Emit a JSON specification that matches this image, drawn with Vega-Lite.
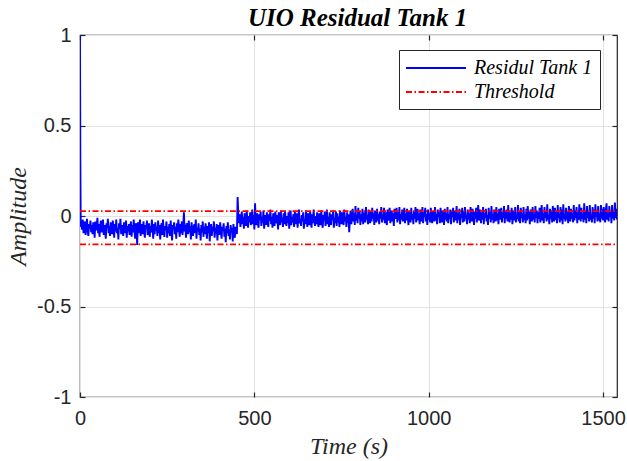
{
"$schema":"https://vega.github.io/schema/vega-lite/v6.json",
"width":537,"height":362,
"autosize":{"type":"none"},
"padding":{"left":80,"top":35,"right":10,"bottom":64},
"background":"white",
"title":{"text":"UIO Residual Tank 1","font":"Liberation Serif","fontStyle":"italic","fontWeight":"bold","fontSize":25,"color":"black","offset":-6,"dx":9},
"datasets":{
"res":[
{"t":0,"r":1},{"t":1,"r":0.3},{"t":2,"r":-0.02},{"t":3,"r":-0.06},
{"t":4,"r":-0.04},{"t":6,"r":-0.075},{"t":8,"r":-0.02},{"t":10,"r":-0.095},{"t":12,"r":-0.055},{"t":14,"r":-0.03},{"t":16,"r":-0.105},{"t":18,"r":-0.06},{"t":20,"r":-0.015},{"t":22,"r":-0.085},
{"t":24,"r":-0.11},{"t":26,"r":-0.045},{"t":28,"r":-0.07},{"t":30,"r":-0.025},{"t":32,"r":-0.09},{"t":34,"r":-0.05},{"t":36,"r":-0.1},{"t":38,"r":-0.035},{"t":40,"r":-0.065},{"t":42,"r":-0.12},
{"t":44,"r":-0.03},{"t":46,"r":-0.08},{"t":48,"r":-0.055},{"t":50,"r":-0.01},{"t":52,"r":-0.095},{"t":54,"r":-0.045},{"t":56,"r":-0.115},{"t":58,"r":-0.06},{"t":60,"r":-0.025},{"t":62,"r":-0.09},
{"t":64,"r":-0.07},{"t":66,"r":-0.02},{"t":68,"r":-0.105},{"t":70,"r":-0.05},{"t":72,"r":-0.085},{"t":74,"r":-0.125},{"t":76,"r":-0.04},{"t":78,"r":-0.065},{"t":80,"r":-0.015},{"t":82,"r":-0.095},
{"t":84,"r":-0.055},{"t":86,"r":-0.11},{"t":88,"r":-0.035},{"t":90,"r":-0.075},{"t":92,"r":-0.1},{"t":94,"r":-0.025},{"t":96,"r":-0.06},{"t":98,"r":-0.12},{"t":100,"r":-0.045},{"t":102,"r":-0.085},
{"t":104,"r":-0.02},{"t":106,"r":-0.095},{"t":108,"r":-0.065},{"t":110,"r":-0.13},{"t":112,"r":-0.04},{"t":114,"r":-0.07},{"t":116,"r":-0.015},{"t":118,"r":-0.1},{"t":120,"r":-0.05},{"t":122,"r":-0.08},
{"t":124,"r":-0.11},{"t":126,"r":-0.035},{"t":128,"r":-0.06},{"t":130,"r":-0.095},{"t":132,"r":-0.025},{"t":134,"r":-0.12},{"t":136,"r":-0.055},{"t":138,"r":-0.085},{"t":140,"r":-0.045},{"t":142,"r":-0.105},
{"t":144,"r":-0.07},{"t":146,"r":-0.03},{"t":148,"r":-0.115},{"t":150,"r":-0.05},{"t":152,"r":-0.09},{"t":154,"r":-0.02},{"t":156,"r":-0.075},{"t":158,"r":-0.125},{"t":160,"r":-0.04},{"t":162,"r":-0.065},
{"t":164,"r":-0.16},{"t":166,"r":-0.035},{"t":168,"r":-0.095},{"t":170,"r":-0.055},{"t":172,"r":-0.02},{"t":174,"r":-0.11},{"t":176,"r":-0.07},{"t":178,"r":-0.045},{"t":180,"r":-0.1},{"t":182,"r":-0.03},
{"t":184,"r":-0.085},{"t":186,"r":-0.12},{"t":188,"r":-0.05},{"t":190,"r":-0.065},{"t":192,"r":-0.025},{"t":194,"r":-0.105},{"t":196,"r":-0.075},{"t":198,"r":-0.04},{"t":200,"r":-0.115},{"t":202,"r":-0.055},
{"t":204,"r":-0.09},{"t":206,"r":-0.02},{"t":208,"r":-0.07},{"t":210,"r":-0.125},{"t":212,"r":-0.045},{"t":214,"r":-0.1},{"t":216,"r":-0.035},{"t":218,"r":-0.08},{"t":220,"r":-0.06},{"t":222,"r":-0.11},
{"t":224,"r":-0.025},{"t":226,"r":-0.095},{"t":228,"r":-0.05},{"t":230,"r":-0.13},{"t":232,"r":-0.065},{"t":234,"r":-0.04},{"t":236,"r":-0.105},{"t":238,"r":-0.02},{"t":240,"r":-0.085},{"t":242,"r":-0.115},
{"t":244,"r":-0.055},{"t":246,"r":-0.075},{"t":248,"r":-0.03},{"t":250,"r":-0.12},{"t":252,"r":-0.06},{"t":254,"r":-0.095},{"t":256,"r":-0.045},{"t":258,"r":-0.11},{"t":260,"r":-0.025},{"t":262,"r":-0.08},
{"t":264,"r":-0.135},{"t":266,"r":-0.05},{"t":268,"r":-0.07},{"t":270,"r":-0.035},{"t":272,"r":-0.1},{"t":274,"r":-0.06},{"t":276,"r":-0.125},{"t":278,"r":-0.04},{"t":280,"r":-0.09},{"t":282,"r":-0.02},
{"t":284,"r":-0.075},{"t":286,"r":-0.115},{"t":288,"r":-0.045},{"t":290,"r":-0.095},{"t":292,"r":-0.03},{"t":294,"r":-0.105},{"t":296,"r":-0.06},{"t":298,"r":0.02},{"t":300,"r":-0.085},{"t":302,"r":-0.05},
{"t":304,"r":-0.12},{"t":306,"r":-0.04},{"t":308,"r":-0.07},{"t":310,"r":-0.1},{"t":312,"r":-0.025},{"t":314,"r":-0.09},{"t":316,"r":-0.055},{"t":318,"r":-0.13},{"t":320,"r":-0.035},{"t":322,"r":-0.08},
{"t":324,"r":-0.11},{"t":326,"r":-0.06},{"t":328,"r":-0.045},{"t":330,"r":-0.095},{"t":332,"r":-0.02},{"t":334,"r":-0.125},{"t":336,"r":-0.065},{"t":338,"r":-0.085},{"t":340,"r":-0.04},{"t":342,"r":-0.105},
{"t":344,"r":-0.07},{"t":346,"r":-0.135},{"t":348,"r":-0.05},{"t":350,"r":-0.09},{"t":352,"r":-0.03},{"t":354,"r":-0.115},{"t":356,"r":-0.06},{"t":358,"r":-0.1},{"t":360,"r":-0.04},{"t":362,"r":-0.075},
{"t":364,"r":-0.125},{"t":366,"r":-0.055},{"t":368,"r":-0.095},{"t":370,"r":-0.035},{"t":372,"r":-0.14},{"t":374,"r":-0.07},{"t":376,"r":-0.045},{"t":378,"r":-0.11},{"t":380,"r":-0.06},{"t":382,"r":-0.085},
{"t":384,"r":-0.03},{"t":386,"r":-0.12},{"t":388,"r":-0.065},{"t":390,"r":-0.1},{"t":392,"r":-0.045},{"t":394,"r":-0.135},{"t":396,"r":-0.075},{"t":398,"r":-0.05},{"t":400,"r":-0.105},{"t":402,"r":-0.035},
{"t":404,"r":-0.09},{"t":406,"r":-0.125},{"t":408,"r":-0.06},{"t":410,"r":-0.08},{"t":412,"r":-0.04},{"t":414,"r":-0.115},{"t":416,"r":-0.07},{"t":418,"r":-0.145},{"t":420,"r":-0.055},{"t":422,"r":-0.095},
{"t":424,"r":-0.035},{"t":426,"r":-0.11},{"t":428,"r":-0.075},{"t":430,"r":-0.13},{"t":432,"r":-0.05},{"t":434,"r":-0.09},{"t":436,"r":-0.065},{"t":438,"r":-0.14},{"t":440,"r":-0.045},{"t":442,"r":-0.1},
{"t":444,"r":-0.12},{"t":446,"r":-0.06},{"t":448,"r":-0.085},{"t":450,"r":-0.1},{"t":452,"r":0.105},{"t":454,"r":0.01},
{"t":456,"r":-0.04},{"t":458,"r":0.01},{"t":460,"r":-0.06},{"t":462,"r":-0.02},{"t":464,"r":0.025},{"t":466,"r":-0.045},{"t":468,"r":-0.005},{"t":470,"r":-0.07},{"t":472,"r":0.015},{"t":474,"r":-0.03},
{"t":476,"r":-0.055},{"t":478,"r":0.03},{"t":480,"r":-0.015},{"t":482,"r":-0.065},{"t":484,"r":0},{"t":486,"r":-0.035},{"t":488,"r":0.02},{"t":490,"r":-0.05},{"t":492,"r":-0.01},{"t":494,"r":0.035},
{"t":496,"r":-0.045},{"t":498,"r":0.005},{"t":500,"r":-0.075},{"t":502,"r":0.07},{"t":504,"r":-0.025},{"t":506,"r":-0.05},{"t":508,"r":0.015},{"t":510,"r":-0.035},{"t":512,"r":-0.065},{"t":514,"r":0.01},
{"t":516,"r":-0.02},{"t":518,"r":0.025},{"t":520,"r":-0.055},{"t":522,"r":-0.005},{"t":524,"r":-0.04},{"t":526,"r":0.03},{"t":528,"r":-0.07},{"t":530,"r":-0.015},{"t":532,"r":0.005},{"t":534,"r":-0.05},
{"t":536,"r":0.02},{"t":538,"r":-0.035},{"t":540,"r":-0.06},{"t":542,"r":0.01},{"t":544,"r":-0.025},{"t":546,"r":0.035},{"t":548,"r":-0.045},{"t":550,"r":-0.005},{"t":552,"r":-0.065},{"t":554,"r":0.015},
{"t":556,"r":-0.03},{"t":558,"r":-0.055},{"t":560,"r":0.025},{"t":562,"r":-0.015},{"t":564,"r":-0.04},{"t":566,"r":0.005},{"t":568,"r":-0.075},{"t":570,"r":0.02},{"t":572,"r":-0.02},{"t":574,"r":-0.05},
{"t":576,"r":0.03},{"t":578,"r":-0.035},{"t":580,"r":-0.01},{"t":582,"r":-0.06},{"t":584,"r":0.015},{"t":586,"r":-0.045},{"t":588,"r":0.025},{"t":590,"r":-0.025},{"t":592,"r":-0.055},{"t":594,"r":0},
{"t":596,"r":-0.04},{"t":598,"r":0.02},{"t":600,"r":-0.07},{"t":602,"r":-0.015},{"t":604,"r":0.03},{"t":606,"r":-0.05},{"t":608,"r":-0.005},{"t":610,"r":-0.035},{"t":612,"r":0.01},{"t":614,"r":-0.06},
{"t":616,"r":0.025},{"t":618,"r":-0.025},{"t":620,"r":-0.045},{"t":622,"r":0.015},{"t":624,"r":-0.065},{"t":626,"r":-0.01},{"t":628,"r":0.035},{"t":630,"r":-0.04},{"t":632,"r":-0.02},{"t":634,"r":-0.055},
{"t":636,"r":0.005},{"t":638,"r":-0.03},{"t":640,"r":0.02},{"t":642,"r":-0.07},{"t":644,"r":-0.015},{"t":646,"r":-0.045},{"t":648,"r":0.03},{"t":650,"r":-0.005},{"t":652,"r":-0.06},{"t":654,"r":0.015},
{"t":656,"r":-0.035},{"t":658,"r":-0.05},{"t":660,"r":0.025},{"t":662,"r":-0.02},{"t":664,"r":-0.065},{"t":666,"r":0.01},{"t":668,"r":-0.04},{"t":670,"r":0.035},{"t":672,"r":-0.025},{"t":674,"r":-0.055},
{"t":676,"r":0},{"t":678,"r":-0.045},{"t":680,"r":0.02},{"t":682,"r":-0.03},{"t":684,"r":-0.06},{"t":686,"r":0.015},{"t":688,"r":-0.01},{"t":690,"r":-0.05},{"t":692,"r":0.03},{"t":694,"r":-0.035},
{"t":696,"r":-0.065},{"t":698,"r":0.005},{"t":700,"r":-0.025},{"t":702,"r":0.025},{"t":704,"r":-0.055},{"t":706,"r":-0.015},{"t":708,"r":0.035},{"t":710,"r":-0.045},{"t":712,"r":-0.005},{"t":714,"r":-0.06},
{"t":716,"r":0.02},{"t":718,"r":-0.03},{"t":720,"r":-0.05},{"t":722,"r":0.01},{"t":724,"r":-0.02},{"t":726,"r":0.03},{"t":728,"r":-0.065},{"t":730,"r":-0.01},{"t":732,"r":-0.04},{"t":734,"r":0.025},
{"t":736,"r":-0.055},{"t":738,"r":0.015},{"t":740,"r":-0.035},{"t":742,"r":-0.005},{"t":744,"r":-0.06},{"t":746,"r":0.03},{"t":748,"r":-0.025},{"t":750,"r":-0.045},{"t":752,"r":0.02},{"t":754,"r":-0.015},
{"t":756,"r":-0.05},{"t":758,"r":0.035},{"t":760,"r":-0.03},{"t":762,"r":-0.005},{"t":764,"r":-0.06},{"t":766,"r":0.02},{"t":768,"r":-0.04},{"t":770,"r":0.01},{"t":772,"r":-0.09},{"t":774,"r":-0.02},
{"t":776,"r":0.03},{"t":778,"r":-0.045},{"t":780,"r":-0.005},{"t":782,"r":0.04},{"t":784,"r":-0.03},{"t":786,"r":0.015},{"t":788,"r":-0.05},{"t":790,"r":0.055},{"t":792,"r":-0.025},{"t":794,"r":0.005},
{"t":796,"r":-0.04},{"t":798,"r":0.045},{"t":800,"r":-0.015},{"t":802,"r":0.025},{"t":804,"r":-0.05},{"t":806,"r":0.01},{"t":808,"r":-0.03},{"t":810,"r":0.04},{"t":812,"r":-0.045},{"t":814,"r":-0.005},
{"t":816,"r":0.02},{"t":818,"r":-0.035},{"t":820,"r":0.05},{"t":822,"r":-0.02},{"t":824,"r":0.005},{"t":826,"r":-0.045},{"t":828,"r":0.035},{"t":830,"r":-0.01},{"t":832,"r":-0.04},{"t":834,"r":0.025},
{"t":836,"r":-0.03},{"t":838,"r":0.045},{"t":840,"r":-0.015},{"t":842,"r":0.015},{"t":844,"r":-0.05},{"t":846,"r":0.03},{"t":848,"r":-0.005},{"t":850,"r":-0.035},{"t":852,"r":0.04},{"t":854,"r":-0.025},
{"t":856,"r":0.01},{"t":858,"r":-0.045},{"t":860,"r":0.025},{"t":862,"r":-0.015},{"t":864,"r":0.05},{"t":866,"r":-0.035},{"t":868,"r":0.005},{"t":870,"r":-0.02},{"t":872,"r":0.045},{"t":874,"r":-0.04},
{"t":876,"r":0.02},{"t":878,"r":-0.01},{"t":880,"r":-0.05},{"t":882,"r":0.035},{"t":884,"r":-0.025},{"t":886,"r":0.01},{"t":888,"r":0.045},{"t":890,"r":-0.04},{"t":892,"r":-0.005},{"t":894,"r":0.03},
{"t":896,"r":-0.03},{"t":898,"r":0.015},{"t":900,"r":-0.055},{"t":902,"r":0.04},{"t":904,"r":-0.015},{"t":906,"r":0.005},{"t":908,"r":0.045},{"t":910,"r":-0.035},{"t":912,"r":0.02},{"t":914,"r":-0.025},
{"t":916,"r":0.05},{"t":918,"r":-0.045},{"t":920,"r":0.01},{"t":922,"r":-0.02},{"t":924,"r":0.035},{"t":926,"r":-0.03},{"t":928,"r":-0.005},{"t":930,"r":0.045},{"t":932,"r":-0.04},{"t":934,"r":0.015},
{"t":936,"r":-0.025},{"t":938,"r":0.04},{"t":940,"r":-0.01},{"t":942,"r":-0.05},{"t":944,"r":0.025},{"t":946,"r":0.005},{"t":948,"r":-0.035},{"t":950,"r":0.045},{"t":952,"r":-0.02},{"t":954,"r":0.01},
{"t":956,"r":-0.045},{"t":958,"r":0.03},{"t":960,"r":-0.015},{"t":962,"r":0.05},{"t":964,"r":-0.035},{"t":966,"r":0},{"t":968,"r":0.04},{"t":970,"r":-0.025},{"t":972,"r":0.015},{"t":974,"r":-0.045},
{"t":976,"r":0.035},{"t":978,"r":-0.01},{"t":980,"r":-0.03},{"t":982,"r":0.05},{"t":984,"r":-0.04},{"t":986,"r":0.02},{"t":988,"r":-0.005},{"t":990,"r":0.045},{"t":992,"r":-0.03},{"t":994,"r":0.01},
{"t":996,"r":-0.05},{"t":998,"r":0.035},{"t":1000,"r":-0.02},{"t":1002,"r":0.015},{"t":1004,"r":-0.035},{"t":1006,"r":0.045},{"t":1008,"r":-0.01},{"t":1010,"r":-0.04},{"t":1012,"r":0.025},{"t":1014,"r":0.005},
{"t":1016,"r":-0.03},{"t":1018,"r":0.05},{"t":1020,"r":-0.025},{"t":1022,"r":0.01},{"t":1024,"r":-0.045},{"t":1026,"r":0.035},{"t":1028,"r":-0.005},{"t":1030,"r":0.02},{"t":1032,"r":-0.04},{"t":1034,"r":0.045},
{"t":1036,"r":-0.015},{"t":1038,"r":-0.035},{"t":1040,"r":0.03},{"t":1042,"r":0.005},{"t":1044,"r":-0.05},{"t":1046,"r":0.04},{"t":1048,"r":-0.02},{"t":1050,"r":0.015},{"t":1052,"r":-0.03},{"t":1054,"r":0.05},
{"t":1056,"r":-0.04},{"t":1058,"r":0.01},{"t":1060,"r":-0.015},{"t":1062,"r":0.035},{"t":1064,"r":-0.045},{"t":1066,"r":0.025},{"t":1068,"r":-0.005},{"t":1070,"r":0.045},{"t":1072,"r":-0.035},{"t":1074,"r":0},
{"t":1076,"r":0.03},{"t":1078,"r":-0.025},{"t":1080,"r":0.055},{"t":1082,"r":-0.04},{"t":1084,"r":0.015},{"t":1086,"r":-0.02},{"t":1088,"r":0.04},{"t":1090,"r":-0.05},{"t":1092,"r":0.01},{"t":1094,"r":-0.01},
{"t":1096,"r":0.045},{"t":1098,"r":-0.035},{"t":1100,"r":0.025},{"t":1102,"r":-0.03},{"t":1104,"r":0.05},{"t":1106,"r":-0.015},{"t":1108,"r":0.005},{"t":1110,"r":-0.045},{"t":1112,"r":0.035},{"t":1114,"r":-0.02},
{"t":1116,"r":0.015},{"t":1118,"r":-0.04},{"t":1120,"r":0.05},{"t":1122,"r":-0.01},{"t":1124,"r":-0.03},{"t":1126,"r":0.04},{"t":1128,"r":0},{"t":1130,"r":-0.05},{"t":1132,"r":0.025},{"t":1134,"r":-0.015},
{"t":1136,"r":0.045},{"t":1138,"r":-0.035},{"t":1140,"r":0.01},{"t":1142,"r":0.06},{"t":1144,"r":-0.025},{"t":1146,"r":-0.005},{"t":1148,"r":0.035},{"t":1150,"r":-0.04},{"t":1152,"r":0.02},{"t":1154,"r":-0.02},
{"t":1156,"r":0.05},{"t":1158,"r":-0.045},{"t":1160,"r":0.015},{"t":1162,"r":-0.01},{"t":1164,"r":0.04},{"t":1166,"r":-0.03},{"t":1168,"r":0.005},{"t":1170,"r":-0.05},{"t":1172,"r":0.045},{"t":1174,"r":-0.015},
{"t":1176,"r":0.025},{"t":1178,"r":-0.035},{"t":1180,"r":0.055},{"t":1182,"r":-0.02},{"t":1184,"r":0.01},{"t":1186,"r":-0.04},{"t":1188,"r":0.035},{"t":1190,"r":-0.005},{"t":1192,"r":-0.03},{"t":1194,"r":0.05},
{"t":1196,"r":-0.025},{"t":1198,"r":0.015},{"t":1200,"r":-0.045},{"t":1202,"r":0.04},{"t":1204,"r":0},{"t":1206,"r":-0.02},{"t":1208,"r":0.045},{"t":1210,"r":-0.035},{"t":1212,"r":0.02},{"t":1214,"r":-0.01},
{"t":1216,"r":0.055},{"t":1218,"r":-0.04},{"t":1220,"r":0.025},{"t":1222,"r":-0.015},{"t":1224,"r":0.035},{"t":1226,"r":-0.03},{"t":1228,"r":0.06},{"t":1230,"r":-0.005},{"t":1232,"r":-0.035},{"t":1234,"r":0.02},
{"t":1236,"r":-0.02},{"t":1238,"r":0.045},{"t":1240,"r":-0.045},{"t":1242,"r":0.01},{"t":1244,"r":0.03},{"t":1246,"r":-0.025},{"t":1248,"r":0.05},{"t":1250,"r":-0.035},{"t":1252,"r":0.005},{"t":1254,"r":-0.015},
{"t":1256,"r":0.06},{"t":1258,"r":-0.03},{"t":1260,"r":0.02},{"t":1262,"r":-0.04},{"t":1264,"r":0.045},{"t":1266,"r":-0.01},{"t":1268,"r":0.015},{"t":1270,"r":-0.035},{"t":1272,"r":0.05},{"t":1274,"r":-0.02},
{"t":1276,"r":0.005},{"t":1278,"r":-0.04},{"t":1280,"r":0.04},{"t":1282,"r":-0.025},{"t":1284,"r":0.055},{"t":1286,"r":-0.015},{"t":1288,"r":0.025},{"t":1290,"r":-0.045},{"t":1292,"r":0.035},{"t":1294,"r":-0.005},
{"t":1296,"r":-0.03},{"t":1298,"r":0.05},{"t":1300,"r":-0.02},{"t":1302,"r":0.01},{"t":1304,"r":-0.035},{"t":1306,"r":0.055},{"t":1308,"r":-0.01},{"t":1310,"r":0.03},{"t":1312,"r":-0.04},{"t":1314,"r":0.02},
{"t":1316,"r":-0.015},{"t":1318,"r":0.045},{"t":1320,"r":-0.035},{"t":1322,"r":0.005},{"t":1324,"r":0.06},{"t":1326,"r":-0.025},{"t":1328,"r":0.015},{"t":1330,"r":-0.04},{"t":1332,"r":0.05},{"t":1334,"r":-0.01},
{"t":1336,"r":0.03},{"t":1338,"r":-0.03},{"t":1340,"r":0.065},{"t":1342,"r":-0.02},{"t":1344,"r":0.005},{"t":1346,"r":-0.045},{"t":1348,"r":0.04},{"t":1350,"r":-0.015},{"t":1352,"r":0.025},{"t":1354,"r":-0.035},
{"t":1356,"r":0.055},{"t":1358,"r":-0.005},{"t":1360,"r":-0.03},{"t":1362,"r":0.045},{"t":1364,"r":-0.02},{"t":1366,"r":0.02},{"t":1368,"r":-0.04},{"t":1370,"r":0.06},{"t":1372,"r":-0.01},{"t":1374,"r":0.01},
{"t":1376,"r":-0.035},{"t":1378,"r":0.05},{"t":1380,"r":-0.025},{"t":1382,"r":0.035},{"t":1384,"r":-0.045},{"t":1386,"r":0.065},{"t":1388,"r":-0.015},{"t":1390,"r":0.005},{"t":1392,"r":-0.03},{"t":1394,"r":0.045},
{"t":1396,"r":-0.02},{"t":1398,"r":0.025},{"t":1400,"r":-0.04},{"t":1402,"r":0.055},{"t":1404,"r":0},{"t":1406,"r":-0.03},{"t":1408,"r":0.04},{"t":1410,"r":-0.015},{"t":1412,"r":0.015},{"t":1414,"r":-0.035},
{"t":1416,"r":0.06},{"t":1418,"r":-0.025},{"t":1420,"r":0.03},{"t":1422,"r":-0.01},{"t":1424,"r":0.05},{"t":1426,"r":-0.04},{"t":1428,"r":0.02},{"t":1430,"r":-0.02},{"t":1432,"r":0.065},{"t":1434,"r":-0.005},
{"t":1436,"r":-0.03},{"t":1438,"r":0.045},{"t":1440,"r":-0.015},{"t":1442,"r":0.01},{"t":1444,"r":-0.035},{"t":1446,"r":0.07},{"t":1448,"r":-0.02},{"t":1450,"r":0.03},{"t":1452,"r":-0.04},{"t":1454,"r":0.055},
{"t":1456,"r":-0.01},{"t":1458,"r":0.025},{"t":1460,"r":-0.03},{"t":1462,"r":0.06},{"t":1464,"r":-0.02},{"t":1466,"r":0.005},{"t":1468,"r":-0.035},{"t":1470,"r":0.05},{"t":1472,"r":-0.015},{"t":1474,"r":0.035},
{"t":1476,"r":-0.04},{"t":1478,"r":0.065},{"t":1480,"r":-0.005},{"t":1482,"r":0.02},{"t":1484,"r":-0.03},{"t":1486,"r":0.055},{"t":1488,"r":-0.025},{"t":1490,"r":0.015},{"t":1492,"r":-0.035},{"t":1494,"r":0.06},
{"t":1496,"r":-0.015},{"t":1498,"r":0.04},{"t":1500,"r":-0.025},{"t":1502,"r":0.05},{"t":1504,"r":-0.01},{"t":1506,"r":-0.035},{"t":1508,"r":0.035},{"t":1510,"r":0.07},{"t":1512,"r":-0.02},{"t":1514,"r":0.015},
{"t":1516,"r":-0.03},{"t":1518,"r":0.055},{"t":1520,"r":-0.005},{"t":1522,"r":0.025},{"t":1524,"r":-0.04},{"t":1526,"r":0.06},{"t":1528,"r":-0.015},{"t":1530,"r":0.03},{"t":1532,"r":-0.025},{"t":1534,"r":0.075},
{"t":1536,"r":-0.01},{"t":1538,"r":0.04},{"t":1540,"r":-0.02}
],
"thr":[
{"t":0,"r":0.027,"g":"up"},{"t":1540,"r":0.027,"g":"up"},
{"t":0,"r":-0.157,"g":"low"},{"t":1540,"r":-0.157,"g":"low"}
]
},
"layer":[
{"data":{"name":"res"},
 "mark":{"type":"line","strokeWidth":1.9,"clip":true},
 "encoding":{
  "x":{"field":"t","type":"quantitative","scale":{"domain":[0,1540],"nice":false,"zero":false},
       "axis":{"orient":"bottom","values":[0,500,1000,1500],"title":"Time (s)","grid":true,"labelExpr":"''+datum.value","labelFlush":false,"labelOverlap":false,"labelPadding":16,"titlePadding":6}},
  "y":{"field":"r","type":"quantitative","scale":{"domain":[-1,1],"nice":false,"zero":false},
       "axis":{"orient":"left","values":[-1,-0.5,0,0.5,1],"title":"Amplitude","grid":true,"labelExpr":"''+datum.value","labelFlush":false,"labelOverlap":false,"labelPadding":14,"titlePadding":6}},
  "color":{"datum":"Residul Tank 1","type":"nominal","scale":{"domain":["Residul Tank 1","Threshold"],"range":["#0000ff","#ff0000"]},
           "legend":{"title":null,"symbolType":"M-3,0H3","symbolSize":400,"symbolOffset":19,"labelOffset":27}},
  "strokeDash":{"datum":"Residul Tank 1","type":"nominal","scale":{"domain":["Residul Tank 1","Threshold"],"range":[[1,0],[6,2.5,1.5,2.5]]},
           "legend":{"title":null,"symbolType":"M-3,0H3","symbolSize":400,"symbolOffset":19,"labelOffset":27}}
 }},
{"data":{"name":"thr"},
 "mark":{"type":"line","strokeWidth":1.7,"clip":true},
 "encoding":{
  "x":{"field":"t","type":"quantitative","axis":null},
  "y":{"field":"r","type":"quantitative","axis":null},
  "detail":{"field":"g","type":"nominal"},
  "color":{"datum":"Threshold","type":"nominal"},
  "strokeDash":{"datum":"Threshold","type":"nominal"}
 }},
{"data":{"name":"thr"},
 "mark":{"type":"line","opacity":0},
 "encoding":{
  "x":{"field":"t","type":"quantitative","axis":{"orient":"top","values":[0,500,1000,1500],"labels":false,"title":null,"grid":false}},
  "y":{"field":"r","type":"quantitative","axis":{"orient":"right","values":[-1,-0.5,0,0.5,1],"labels":false,"title":null,"grid":false}},
  "detail":{"field":"g","type":"nominal"}
 }}
],
"resolve":{"axis":{"x":"independent","y":"independent"}},
"config":{
 "view":{"stroke":"#262626","strokeWidth":1.2},
 "axis":{"labelFont":"Liberation Sans","labelFontSize":20,"labelColor":"#262626","titleFont":"Liberation Serif","titleFontStyle":"italic","titleFontWeight":"normal","titleFontSize":24,"titleColor":"#262626","tickColor":"#262626","tickSize":-5,"tickWidth":1.2,"domain":false,"gridColor":"#e2e2e2","gridWidth":1},
 "legend":{"orient":"none","legendX":319,"legendY":15,"strokeColor":"#262626","fillColor":"white","padding":7,"labelFont":"Liberation Serif","labelFontStyle":"italic","labelFontSize":20,"labelColor":"black","symbolStrokeWidth":1.8,"rowPadding":3,"cornerRadius":0}
}
}
